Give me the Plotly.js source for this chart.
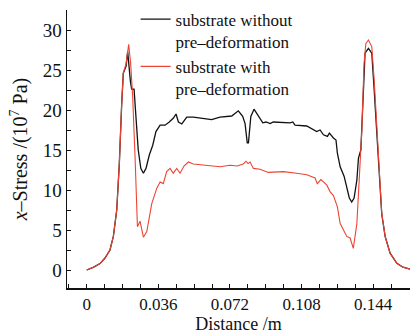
<!DOCTYPE html>
<html>
<head>
<meta charset="utf-8">
<script src="https://cdn.plot.ly/plotly-3.0.1.min.js"></script>
<style>html,body{margin:0;padding:0;background:#fff;}#chart{width:410px;height:334px;}</style>
</head>
<body>
<div id="chart"></div>
<script>
// Distance (m) and x-stress (10^7 Pa)
const distWithout = [0.0000,0.0033,0.0067,0.0092,0.0117,0.0134,0.0151,0.0164,0.0176,0.0184,0.0198,0.0206,0.0220,0.0226,0.0238,0.0248,0.0259,0.0272,0.0285,0.0298,0.0315,0.0332,0.0348,0.0369,0.0394,0.0415,0.0435,0.0449,0.0461,0.0478,0.0503,0.0536,0.0586,0.0628,0.0670,0.0729,0.0762,0.0784,0.0796,0.0807,0.0813,0.0825,0.0841,0.0863,0.0885,0.0902,0.0922,0.0938,0.1022,0.1036,0.1047,0.1106,0.1156,0.1173,0.1190,0.1210,0.1220,0.1240,0.1253,0.1260,0.1274,0.1294,0.1307,0.1320,0.1332,0.1344,0.1358,0.1366,0.1378,0.1387,0.1399,0.1416,0.1433,0.1445,0.1458,0.1471,0.1483,0.1500,0.1525,0.1559,0.1590,0.1626];
const stressWithout = [0.0,0.33,0.8,1.5,2.5,4.2,7.5,13.3,20.8,24.6,25.5,27.3,23.5,22.6,22.6,18.75,15.0,12.7,12.1,12.7,14.4,15.6,17.3,18.1,18.1,18.5,18.96,19.5,18.5,18.25,19.1,19.1,18.96,18.8,19.1,19.25,19.9,19.2,18.3,15.9,15.9,19.2,20.1,19.25,18.4,18.5,18.3,18.5,18.4,18.5,18.1,18.0,17.3,17.5,16.9,16.7,17.1,16.5,16.25,14.6,12.9,11.7,10.4,9.0,8.5,9.0,11.25,14.0,15.0,20.5,27.1,27.7,27.1,22.5,17.0,11.0,7.0,4.2,2.1,0.83,0.35,0.1];

const distWith = [0.0000,0.0033,0.0067,0.0092,0.0117,0.0134,0.0151,0.0164,0.0176,0.0184,0.0198,0.0211,0.0221,0.0231,0.0243,0.0255,0.0268,0.0285,0.0302,0.0327,0.0352,0.0369,0.0385,0.0402,0.0419,0.0435,0.0453,0.0469,0.0489,0.0511,0.0536,0.0586,0.0620,0.0670,0.0720,0.0756,0.0787,0.0801,0.0811,0.0821,0.0838,0.0871,0.0913,0.0989,0.1056,0.1106,0.1148,0.1159,0.1177,0.1207,0.1223,0.1240,0.1260,0.1274,0.1287,0.1307,0.1324,0.1340,0.1358,0.1371,0.1383,0.1394,0.1403,0.1416,0.1433,0.1445,0.1458,0.1471,0.1483,0.1500,0.1525,0.1559,0.1590,0.1626];
const stressWith = [0.0,0.33,0.8,1.5,2.5,4.2,7.5,13.3,20.8,24.6,25.8,28.2,25.8,21.7,14.2,5.4,6.1,4.1,4.8,8.3,10.2,11.0,10.8,12.3,12.7,12.1,12.7,12.1,13.0,13.5,13.25,13.1,13.0,12.9,13.1,13.0,13.25,13.6,13.3,13.5,12.7,12.6,12.2,12.3,12.1,11.9,11.5,10.8,11.3,10.6,9.8,9.3,7.9,5.8,5.2,4.2,4.0,2.7,5.8,11.25,17.5,25.8,28.3,28.75,27.9,23.75,17.5,11.25,7.1,4.2,2.1,0.83,0.35,0.1];

const seriesNames = ['substrate without<br>pre\u2013deformation', 'substrate with<br>pre\u2013deformation'];
const xTickVals = [0, 0.036, 0.072, 0.108, 0.144];
const xTickText = ['0', '0.036', '0.072', '0.108', '0.144'];
const yTickVals = [0, 5, 10, 15, 20, 25, 30];

const FONT = 'Liberation Serif, serif';

const traces = [
  {x: distWithout, y: stressWithout, type: 'scatter', mode: 'lines', name: seriesNames[0],
   line: {color: '#111111', width: 1.3}},
  {x: distWith, y: stressWith, type: 'scatter', mode: 'lines', name: seriesNames[1],
   line: {color: '#ee4433', width: 1.1}}
];

const layout = {
  width: 410, height: 334,
  margin: {l: 67, r: 0, t: 10, b: 46},
  paper_bgcolor: '#ffffff', plot_bgcolor: '#ffffff',
  font: {family: FONT, size: 18, color: '#111111'},
  showlegend: true,
  legend: {x: 0.2, y: 1.03, xanchor: 'left', yanchor: 'top', bgcolor: 'rgba(0,0,0,0)',
           font: {family: FONT, size: 17, color: '#111111'}, valign: 'top', tracegroupgap: 0},
  xaxis: {
    range: [-0.0099, 0.1625], showgrid: false, zeroline: false,
    showline: true, linecolor: '#111111', linewidth: 1.5,
    ticks: 'inside', ticklen: 4, tickwidth: 1, tickcolor: '#111111',
    tickvals: xTickVals, ticktext: xTickText,
    minor: {dtick: 0.009, tick0: 0, ticks: 'inside', ticklen: 4, tickcolor: '#111111', showgrid: false},
    title: {text: 'Distance /m', font: {family: FONT, size: 18}, standoff: 3},
    tickfont: {family: FONT, size: 17}
  },
  yaxis: {
    range: [-2.25, 32.5], showgrid: false, zeroline: false,
    showline: true, linecolor: '#111111', linewidth: 1.5,
    ticks: 'inside', ticklen: 4, tickwidth: 1, tickcolor: '#111111',
    tickvals: yTickVals,
    minor: {dtick: 2.5, tick0: 0, ticks: 'inside', ticklen: 4, tickcolor: '#111111', showgrid: false},
    title: {text: '<i>x</i>\u2013Stress /(10<sup>7</sup> Pa)', font: {family: FONT, size: 20}, standoff: 9},
    tickfont: {family: FONT, size: 19}
  }
};

Plotly.newPlot('chart', traces, layout, {displayModeBar: false, staticPlot: true});
</script>
</body>
</html>
